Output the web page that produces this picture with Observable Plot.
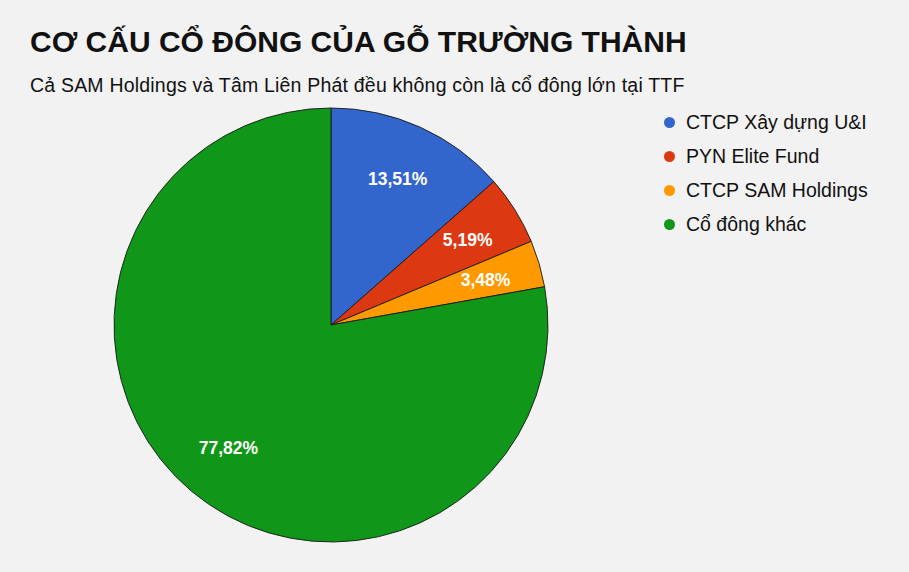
<!DOCTYPE html>
<html>
<head>
<meta charset="utf-8">
<script src="https://cdn.jsdelivr.net/npm/d3@7"></script>
<script src="https://cdn.jsdelivr.net/npm/@observablehq/plot@0.6"></script>
<style>
  html, body { margin: 0; padding: 0; background: #f2f2f2; }
  body { width: 909px; height: 572px; position: relative; overflow: hidden; font-family: "Liberation Sans", Arial, sans-serif; }
  #title { position: absolute; left: 30px; top: 25px; font-size: 30px; font-weight: bold; color: #111; white-space: nowrap; }
  #subtitle { position: absolute; left: 30px; top: 74px; font-size: 19.5px; letter-spacing: 0.2px; color: #111; white-space: nowrap; }
  #chart { position: absolute; left: 0; top: 100px; }
  #legend { position: absolute; left: 664px; top: 105px; font-size: 19.5px; color: #111; }
  .item { height: 34px; display: flex; align-items: center; white-space: nowrap; }
  .sw { width: 11px; height: 11px; border-radius: 50%; margin-right: 11px; }
</style>
</head>
<body>
<div id="title">CƠ CẤU CỔ ĐÔNG CỦA GỖ TRƯỜNG THÀNH</div>
<div id="subtitle">Cả SAM Holdings và Tâm Liên Phát đều không còn là cổ đông lớn tại TTF</div>
<div id="chart"></div>
<div id="legend"></div>
<script>
const categories = ["CTCP Xây dựng U&I", "PYN Elite Fund", "CTCP SAM Holdings", "Cổ đông khác"];
const shares = [13.51, 5.19, 3.48, 77.82];
const labels = ["13,51%", "5,19%", "3,48%", "77,82%"];
const colors = ["#3366cc", "#dc3912", "#ff9900", "#109618"];

const data = categories.map((name, i) => ({name, value: shares[i], label: labels[i]}));
const arcs = d3.pie().sort(null).value(d => d.value)(data)
  .map(a => ({...a, name: a.data.name, label: a.data.label, mid: (a.startAngle + a.endAngle) / 2}));

const labelR = 0.74;

const plot = Plot.plot({
  width: 909,
  height: 472,
  margin: 0,
  x: {domain: [-1, 1], range: [114, 548], axis: null},
  y: {domain: [-1, 1], range: [442, 8], axis: null},
  color: {domain: categories, range: colors},
  style: {background: "transparent", fontFamily: "Liberation Sans, Arial, sans-serif"},
  marks: [
    Plot.dot(arcs, {
      x: () => 0, y: () => 0, fill: "name",
      render: (index, scales, values, dimensions, context) => {
        const cx = scales.x(0), cy = scales.y(0);
        const r = scales.x(1) - scales.x(0);
        const arc = d3.arc().innerRadius(0).outerRadius(r);
        const g = d3.create("svg:g").attr("transform", `translate(${cx},${cy})`);
        for (const i of index) {
          g.append("path")
            .attr("d", arc(arcs[i]))
            .attr("fill", values.fill[i])
            .attr("stroke", "#1a1a1a")
            .attr("stroke-width", 0.9)
            .attr("stroke-linejoin", "round");
        }
        return g.node();
      }
    }),
    Plot.text(arcs, {
      x: d => labelR * Math.sin(d.mid),
      y: d => labelR * Math.cos(d.mid),
      text: "label",
      fill: "white",
      fontSize: 17.5,
      fontWeight: "bold"
    })
  ]
});
document.getElementById("chart").appendChild(plot);

const color = plot.scale("color");
const legend = d3.select("#legend");
color.domain.forEach((name, i) => {
  const item = legend.append("div").attr("class", "item");
  item.append("div").attr("class", "sw").style("background", color.range[i]);
  item.append("span").text(name);
});
</script>
</body>
</html>
